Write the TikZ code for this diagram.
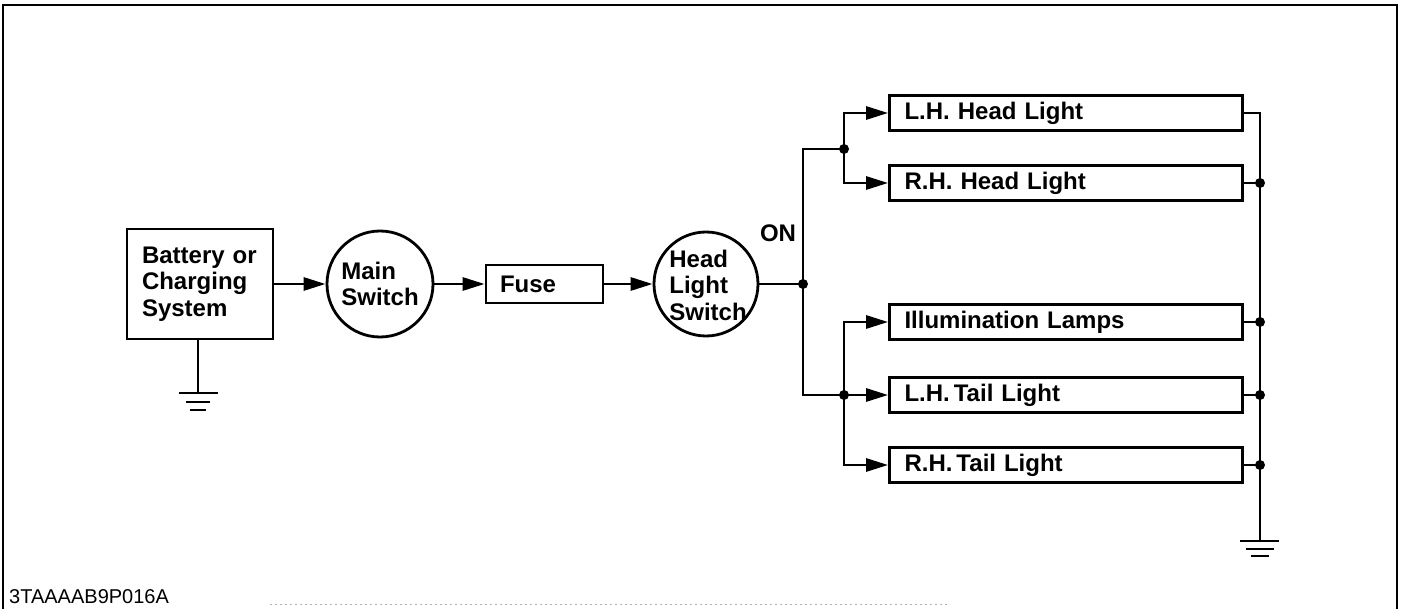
\documentclass[tikz,border=0pt]{standalone}
\usepackage{fontspec}
\setmainfont{Liberation Sans}
\usetikzlibrary{arrows.meta}
\tikzset{
  lbl/.style={font=\bfseries\fontsize{24}{26.5}\selectfont},
  blockbox/.style={draw, line width=2.8pt, lbl, align=left, inner ysep=0pt},
  roundsw/.style={draw, circle, line width=2.8pt, lbl, align=left, inner sep=0pt},
  lampbox/.style={blockbox, text width=323pt, inner xsep=15pt, minimum height=35pt},
  wire/.style={line width=2.8pt},
  arr/.style={wire, -{Triangle[length=22pt,width=13pt]}},
  jdot/.style={circle, fill, inner sep=0pt, minimum size=10pt},
  gbar/.style={line width=2.6pt},
}
\begin{document}
\begin{tikzpicture}[x=1pt, y=-1pt]
\useasboundingbox (0,0) rectangle (1405,609);
% frame
\draw[line width=2.4pt] (3,609) -- (3,5) -- (1397,5) -- (1397,609);
\draw[gray!60, line width=1pt, dash pattern=on 2pt off 3pt] (270,604) -- (950,604);
\node[font=\fontsize{20}{22}\selectfont, anchor=base west, inner sep=0pt] (code) at (9,603) {3TAAAAB9P016A};

% main chain
\node[blockbox, text width=116pt, inner xsep=15pt, minimum height=110pt] (bat) at (200,284) {Battery or\\Charging\\System};
\node[roundsw, minimum size=106pt] (ms) at (380,284) {Main\\Switch};
\node[blockbox, text width=89pt, inner xsep=14pt, minimum height=38pt] (fuse) at (544.5,284) {Fuse};
\node[draw, circle, line width=2.8pt, minimum size=104pt, inner sep=0pt,
      label={[lbl, align=left, inner sep=0pt, xshift=2pt, yshift=-1pt]center:Head\\Light\\Switch}] (hls) at (706,284) {};
\node[lbl, anchor=base, inner sep=0pt] (on) at (778,242) {ON};

\draw[arr] (bat.east) -- (ms.west);
\draw[arr] (ms.east) -- (fuse.west);
\draw[arr] (fuse.east) -- (hls.west);

% lamp boxes
\node[lampbox] (lh) at (1066,113) {L.H. Head Light};
\node[lampbox] (rh) at (1066,183) {R.H. Head Light};
\node[lampbox] (il) at (1066,322) {Illumination Lamps};
\node[lampbox] (lt) at (1066,395) {L.H.\,Tail Light};
\node[lampbox] (rt) at (1066,465) {R.H.\,Tail Light};

% junctions
\coordinate (j0) at (803,284);
\coordinate (jtop) at (803,149);
\coordinate (jbot) at (803,395);
\coordinate (jH) at (844,149);
\coordinate (jT) at (844,395);
\draw[wire] (hls.east) -- (j0);
\draw[wire] (jH) -- (jtop) -- (jbot) -- (jT);
\draw[arr] (jH) |- (lh.west);
\draw[arr] (jH) |- (rh.west);
\draw[arr] (jT) |- (il.west);
\draw[arr] (jT) -- (lt.west);
\draw[arr] (jT) |- (rt.west);
\node[jdot] (d0) at (j0) {};
\node[jdot] (dH) at (jH) {};
\node[jdot] (dT) at (jT) {};

% return bus
\coordinate (g2) at (1260,541);
\draw[wire] (lh.east) -| (g2);
\foreach \b in {rh,il,lt,rt}{
  \draw[wire] (\b.east) -- (\b.east -| g2);
  \node[jdot] at (\b.east -| g2) {};
}
\draw[gbar] ([xshift=-20pt]g2) -- ([xshift=19pt]g2);
\draw[gbar] ([xshift=-14pt,yshift=-8pt]g2) -- ([xshift=14pt,yshift=-8pt]g2);
\draw[gbar] ([xshift=-9pt,yshift=-15pt]g2) -- ([xshift=9pt,yshift=-15pt]g2);

% battery ground
\coordinate (g1) at (198,393);
\draw[wire] (bat.south -| g1) -- (g1);
\draw[gbar] ([xshift=-19pt]g1) -- ([xshift=20pt]g1);
\draw[gbar] ([xshift=-12pt,yshift=-9pt]g1) -- ([xshift=12pt,yshift=-9pt]g1);
\draw[gbar] ([xshift=-8pt,yshift=-17pt]g1) -- ([xshift=8pt,yshift=-17pt]g1);
\end{tikzpicture}
\end{document}
